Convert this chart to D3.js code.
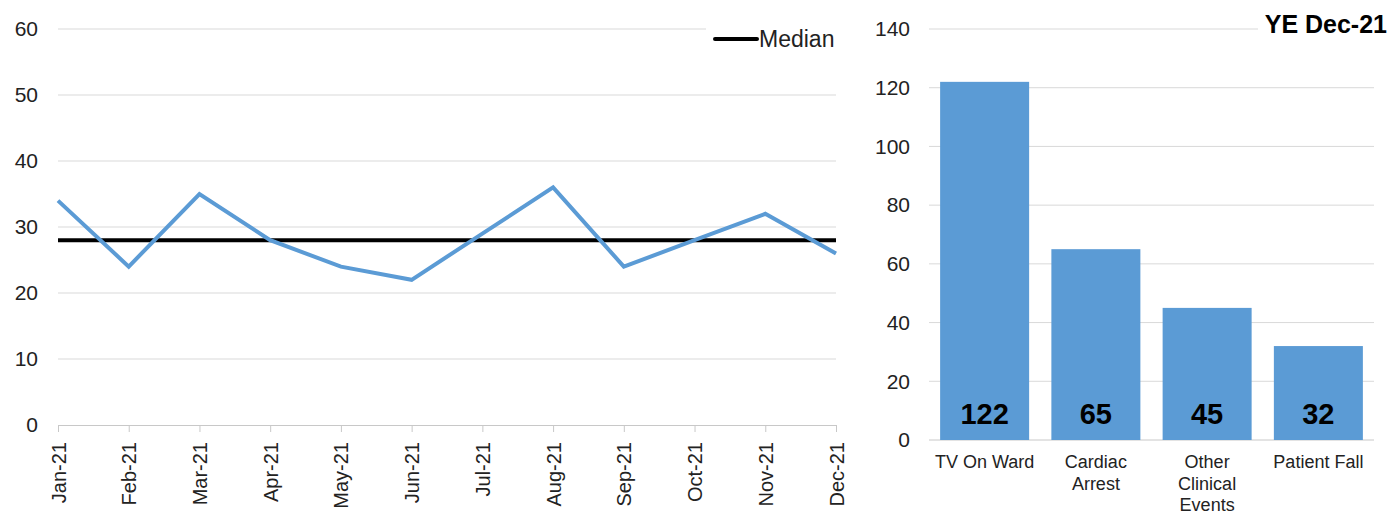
<!DOCTYPE html>
<html>
<head>
<meta charset="utf-8">
<script src="https://cdn.jsdelivr.net/npm/d3@7"></script>
<style>
  html, body { margin: 0; padding: 0; background: #fff; }
  svg { display: block; font-family: "Liberation Sans", Arial, sans-serif; }
</style>
</head>
<body>
<svg id="chart" width="1391" height="514"></svg>
<script>
// Monthly counts (left panel)
const months = ["Jan-21","Feb-21","Mar-21","Apr-21","May-21","Jun-21","Jul-21","Aug-21","Sep-21","Oct-21","Nov-21","Dec-21"];
const monthlyCounts = [34, 24, 35, 28, 24, 22, 29, 36, 24, 28, 32, 26];
const medianValue = 28;
const leftTicks = [0, 10, 20, 30, 40, 50, 60];

// Year-end totals by category (right panel)
const categories = [["TV On Ward"], ["Cardiac", "Arrest"], ["Other", "Clinical", "Events"], ["Patient Fall"]];
const categoryTotals = [122, 65, 45, 32];
const rightTicks = [0, 20, 40, 60, 80, 100, 120, 140];
const rightTitle = "YE Dec-21";

const blue = "#5B9BD5";
const grid = "#d9d9d9";
const textCol = "#222";

const svg = d3.select("#chart");

// ---------- Left panel: line chart ----------
const L = { left: 58, right: 836, top: 29, bottom: 425 };
const xL = d3.scalePoint().domain(months).range([L.left, L.right]);
const yL = d3.scaleLinear().domain([0, 60]).range([L.bottom, L.top]);

const gL = svg.append("g");

// Gridlines (top line stops short of the legend)
gL.selectAll("line.grid").data(leftTicks.filter(d => d > 0)).join("line")
  .attr("x1", L.left)
  .attr("x2", d => d === 60 ? 706 : L.right)
  .attr("y1", d => yL(d)).attr("y2", d => yL(d))
  .attr("stroke", grid).attr("stroke-width", 1);

// Y axis labels
gL.selectAll("text.ytick").data(leftTicks).join("text")
  .attr("x", 38).attr("y", d => yL(d))
  .attr("dy", "0.35em").attr("text-anchor", "end")
  .attr("font-size", 21).attr("fill", textCol)
  .text(d => d);

// X axis with downward ticks
const xAxisL = gL.append("g").attr("transform", `translate(0,${L.bottom})`)
  .call(d3.axisBottom(xL).tickSize(7).tickSizeOuter(0).tickPadding(10));
xAxisL.select(".domain").attr("stroke", "#c8c8c8");
xAxisL.selectAll(".tick line").attr("stroke", "#c8c8c8");
xAxisL.selectAll(".tick text")
  .attr("font-size", 20).attr("fill", textCol)
  .attr("font-family", "Liberation Sans, Arial, sans-serif")
  .attr("transform", "rotate(-90)")
  .attr("text-anchor", "end")
  .attr("x", -17).attr("y", 0).attr("dy", "0.35em");

// Median line
gL.append("line")
  .attr("x1", L.left).attr("x2", L.right)
  .attr("y1", yL(medianValue)).attr("y2", yL(medianValue))
  .attr("stroke", "#000").attr("stroke-width", 4);

// Monthly series
gL.append("path")
  .datum(monthlyCounts)
  .attr("fill", "none").attr("stroke", blue).attr("stroke-width", 4)
  .attr("stroke-linejoin", "miter")
  .attr("d", d3.line().x((d, i) => xL(months[i])).y(d => yL(d)));

// Legend
gL.append("line")
  .attr("x1", 715).attr("x2", 757).attr("y1", 39).attr("y2", 39)
  .attr("stroke", "#000").attr("stroke-width", 4).attr("stroke-linecap", "round");
gL.append("text")
  .attr("x", 759).attr("y", 39).attr("dy", "0.35em")
  .attr("font-size", 23).attr("fill", textCol)
  .text("Median");

// ---------- Right panel: bar chart ----------
const R = { left: 929, right: 1374, top: 29, bottom: 440 };
const xR = d3.scaleBand().domain(categories.map((d, i) => i))
  .range([R.left, R.right]).paddingInner(0.2).paddingOuter(0.1);
const yR = d3.scaleLinear().domain([0, 140]).range([R.bottom, R.top]);

const gR = svg.append("g");

gR.selectAll("line.grid").data(rightTicks).join("line")
  .attr("x1", R.left)
  .attr("x2", d => d === 140 ? 1258 : R.right)
  .attr("y1", d => yR(d)).attr("y2", d => yR(d))
  .attr("stroke", d => d === 0 ? "#c8c8c8" : grid).attr("stroke-width", 1);

gR.selectAll("text.ytick").data(rightTicks).join("text")
  .attr("x", 910).attr("y", d => yR(d))
  .attr("dy", "0.35em").attr("text-anchor", "end")
  .attr("font-size", 21).attr("fill", textCol)
  .text(d => d);

gR.selectAll("rect.bar").data(categoryTotals).join("rect")
  .attr("x", (d, i) => xR(i)).attr("width", xR.bandwidth())
  .attr("y", d => yR(d)).attr("height", d => yR(0) - yR(d))
  .attr("fill", blue);

gR.selectAll("text.val").data(categoryTotals).join("text")
  .attr("x", (d, i) => xR(i) + xR.bandwidth() / 2)
  .attr("y", 424)
  .attr("text-anchor", "middle")
  .attr("font-size", 29).attr("font-weight", "bold").attr("fill", "#000")
  .text(d => d);

const catLabels = gR.selectAll("text.cat").data(categories).join("text")
  .attr("text-anchor", "middle")
  .attr("font-size", 18).attr("fill", textCol)
  .attr("transform", (d, i) => `translate(${xR(i) + xR.bandwidth() / 2},468)`);
catLabels.selectAll("tspan").data(d => d).join("tspan")
  .attr("x", 0).attr("dy", (d, j) => j === 0 ? 0 : 21.5)
  .text(d => d);

gR.append("text")
  .attr("x", 1387).attr("y", 24).attr("dy", "0.35em")
  .attr("text-anchor", "end")
  .attr("font-size", 25).attr("font-weight", "bold").attr("fill", "#000")
  .text(rightTitle);
</script>
</body>
</html>
